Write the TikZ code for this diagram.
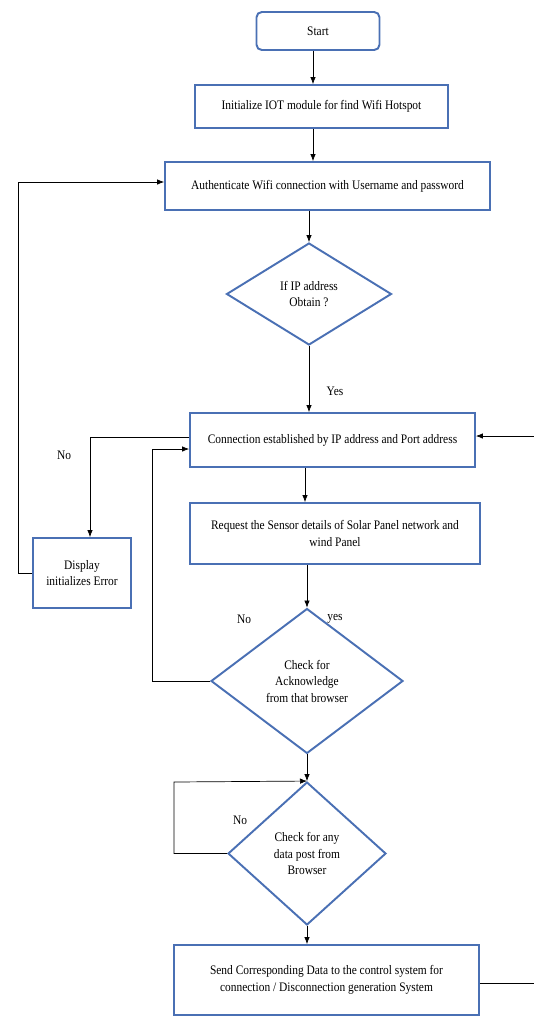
\documentclass[tikz,border=0pt]{standalone}
\usepackage{fontspec}
\setmainfont{Liberation Serif}[FakeStretch=0.88]
\usetikzlibrary{shapes.geometric,arrows.meta}

\definecolor{boxblue}{RGB}{74,112,180}

\tikzset{
    box/.style={draw=boxblue, line width=1.1pt, fill=white, align=center,
        font=\fontsize{7.4}{9.4}\selectfont, inner sep=2pt},
    decision/.style={box, diamond, inner sep=0pt},
    arr/.style={-{Latex[length=1.4mm,width=1.1mm]}, thin},
    lbl/.style={font=\fontsize{7.4}{9.4}\selectfont}
}

\begin{document}
\begin{tikzpicture}[x=0.02cm, y=-0.02cm]
    \useasboundingbox (0,0) rectangle (534,1019);

    \node[box, rounded corners=3pt, minimum width=2.46cm, minimum height=0.76cm] (start) at (318,31) {Start};
    \node[box, minimum width=5.06cm, minimum height=0.86cm] (init) at (321.5,106.5) {Initialize IOT module for find Wifi Hotspot};
    \node[box, minimum width=6.5cm, minimum height=0.96cm] (auth) at (327.5,186) {Authenticate Wifi connection with Username and password};
    \node[decision, minimum width=3.3cm, minimum height=2.04cm] (ipcheck) at (309,294) {If IP address\\ Obtain ?};
    \node[box, minimum width=5.7cm, minimum height=1.08cm] (conn) at (332.5,440) {Connection established by IP address and Port address};
    \node[box, minimum width=1.96cm, minimum height=1.4cm] (error) at (82,573) {Display\\ initializes Error};
    \node[box, minimum width=5.8cm, minimum height=1.22cm] (request) at (335,533.5) {Request the Sensor details of Solar Panel network and\\ wind Panel};
    \node[decision, minimum width=3.84cm, minimum height=2.9cm] (ackcheck) at (307,681) {Check for\\ Acknowledge\\ from that browser};
    \node[decision, minimum width=3.16cm, minimum height=2.86cm] (postcheck) at (307,853.5) {Check for any\\ data post from\\ Browser};
    \node[box, minimum width=6.1cm, minimum height=1.4cm] (send) at (326.5,980) {Send Corresponding Data to the control system for\\ connection / Disconnection generation System};

    % labels
    \node[lbl] (yes1) at (335,391) {Yes};
    \node[lbl] (no1) at (64,455) {No};
    \node[lbl] (no2) at (244,619) {No};
    \node[lbl] (yes2) at (335,619) {yes};
    \node[lbl] (no3) at (240,820) {No};

    % main flow
    \draw[arr] (start.south -| 313,0) -- (init.north -| 313,0);
    \draw[arr] (init.south -| 313,0) -- (auth.north -| 313,0);
    \draw[arr] (auth.south -| ipcheck.north) -- (ipcheck.north);
    \draw[arr] (ipcheck.south) -- (ipcheck.south |- conn.north);
    \draw[arr] (conn.south -| 305,0) -- (request.north -| 305,0);
    \draw[arr] (request.south -| ackcheck.north) -- (ackcheck.north);
    \draw[arr] (ackcheck.south) -- (postcheck.north);
    \draw[arr] (postcheck.south) -- (postcheck.south |- send.north);

    % loops
    \draw[arr] (conn.west |- 0,437) -| (90,0 |- error.north);
    \draw[arr] (error.west) -| (18,182) -- (auth.west |- 0,182);
    \draw[arr] (ackcheck.west) -| (152,449) -- (conn.west |- 0,449);
    \draw[arr] (postcheck.west) -| (174,782) -- (postcheck.north);

    % off to the right edge
    \coordinate (redgeA) at (534,436);
    \coordinate (redgeB) at (534,983);
    \draw[arr] (redgeA) -- (conn.east |- redgeA);
    \draw (send.east |- redgeB) -- (redgeB);
\end{tikzpicture}
\end{document}
